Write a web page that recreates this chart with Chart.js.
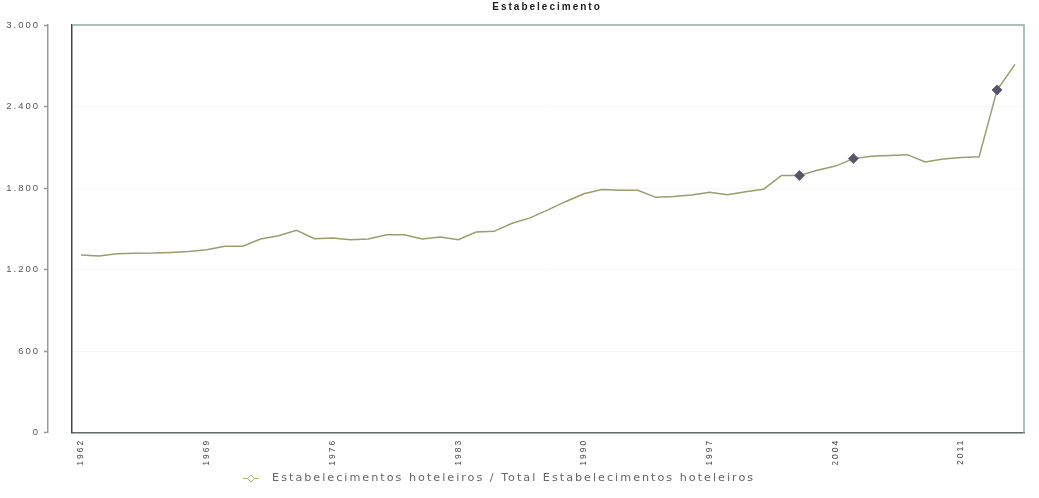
<!DOCTYPE html>
<html>
<head>
<meta charset="utf-8">
<title>Estabelecimento</title>
<script src="https://cdn.jsdelivr.net/npm/chart.js@4/dist/chart.umd.min.js"></script>
<style>
  html, body { margin: 0; padding: 0; background: #fff; }
  #wrap { width: 1039px; height: 498px; }
</style>
</head>
<body>
<div id="wrap"><canvas id="chart"></canvas></div>
<script>
// years on the x axis
const years = [
  '1962','1963','1964','1965','1966','1967','1968','1969','1970','1971',
  '1972','1973','1974','1975','1976','1977','1978','1979','1980','1981',
  '1982','1983','1984','1985','1986','1987','1988','1989','1990','1991',
  '1992','1993','1994','1995','1996','1997','1998','1999','2000','2001',
  '2002','2003','2004','2005','2006','2007','2008','2009','2010','2011',
  '2012','2013','2014'
];
// Estabelecimentos hoteleiros
const establishments = [
  1308, 1301, 1318, 1320, 1322, 1327, 1333, 1347, 1372, 1372,
  1426, 1450, 1489, 1428, 1433, 1421, 1425, 1457, 1457, 1425,
  1440, 1420, 1477, 1482, 1541, 1581, 1640, 1702, 1759, 1789,
  1784, 1784, 1732, 1739, 1749, 1769, 1752, 1774, 1792, 1893,
  1893, 1932, 1962, 2017, 2034, 2040, 2046, 1992, 2015, 2025,
  2030, 2522, 2710
];
const markerYears = ['2002', '2005', '2013'];
const xTickLabels = ['1962', '1969', '1976', '1983', '1990', '1997', '2004', '2011'];
const yMax = 3000;
const yStep = 600;

const legendText = 'Estabelecimentos hoteleiros / Total Estabelecimentos hoteleiros';
const lineColor = '#9c9c6c';
const font = 'Liberation Sans, Arial, sans-serif';

function fmt(v) {
  return String(v).replace(/\B(?=(\d{3})+(?!\d))/g, '.');
}

// little "-<>-" symbol for the legend
const legendIcon = document.createElement('canvas');
legendIcon.width = 16;
legendIcon.height = 9;
const ic = legendIcon.getContext('2d');
ic.strokeStyle = '#b4b46c';
ic.lineWidth = 1;
ic.beginPath(); ic.moveTo(0, 4.5); ic.lineTo(16, 4.5); ic.stroke();
ic.fillStyle = '#fff';
ic.beginPath();
ic.moveTo(8, 1); ic.lineTo(11.5, 4.5); ic.lineTo(8, 8); ic.lineTo(4.5, 4.5);
ic.closePath(); ic.fill(); ic.stroke();

// old chart look: wide letter spacing everywhere
const spacing = {
  id: 'spacing',
  beforeUpdate(chart) { chart.ctx.letterSpacing = '2px'; },
  beforeLayout(chart) { chart.ctx.letterSpacing = '2px'; },
  afterLayout(chart) {
    // title sits a bit right of centre, legend starts near x=235
    chart.titleBlock.left += 35;
    chart.titleBlock.right += 35;
    chart.legend.left = 227.5;
  },
  beforeDraw(chart) { chart.ctx.letterSpacing = '2px'; }
};

// top/right frame of the plot box
const frame = {
  id: 'frame',
  afterDraw(chart) {
    const { ctx, chartArea: a } = chart;
    ctx.save();
    ctx.lineWidth = 1.5;
    ctx.strokeStyle = '#8fabab';
    ctx.beginPath();
    ctx.moveTo(a.left, a.top); ctx.lineTo(a.right, a.top); ctx.lineTo(a.right, a.bottom);
    ctx.stroke();
    ctx.restore();
  }
};

const ctx = document.getElementById('chart').getContext('2d');
const chart = new Chart(ctx, {
  type: 'line',
  data: {
    labels: years,
    datasets: [{
      label: legendText,
      data: establishments,
      borderColor: lineColor,
      borderWidth: 1.5,
      fill: false,
      tension: 0,
      pointStyle: 'rectRot',
      pointRadius: c => markerYears.includes(years[c.dataIndex]) ? 5 : 0,
      pointBackgroundColor: '#56566a',
      pointBorderColor: '#6a6a7a',
      pointBorderWidth: 1
    }]
  },
  options: {
    responsive: true,
    maintainAspectRatio: false,
    animation: false,
    layout: { padding: { left: 0, right: 15, top: 0, bottom: 4 } },
    plugins: {
      title: {
        display: true,
        text: 'Estabelecimento',
        color: '#222',
        font: { family: font, size: 10, weight: 'bold' },
        padding: { top: 1, bottom: 12 }
      },
      legend: {
        position: 'bottom',
        align: 'start',
        labels: {
          usePointStyle: true,
          pointStyleWidth: 31,
          color: '#666',
          padding: 8,
          font: { family: 'DejaVu Sans, Verdana, sans-serif', size: 11.2 },
          generateLabels: () => [{
            text: legendText,
            pointStyle: legendIcon,
            fillStyle: '#fff',
            strokeStyle: '#b4b46c',
            lineWidth: 1,
            hidden: false,
            datasetIndex: 0,
            fontColor: '#666'
          }]
        }
      },
      tooltip: { enabled: false }
    },
    scales: {
      x: {
        offset: true,
        afterFit: s => { s.height = 32; },
        grid: { display: false, drawTicks: false },
        border: { display: true, color: '#5d6b6b', width: 1.5 },
        ticks: {
          autoSkip: false,
          minRotation: 90,
          maxRotation: 90,
          padding: 6,
          color: '#444',
          font: { family: font, size: 8.5 },
          callback: function (v) {
            const lab = this.getLabelForValue(v);
            return xTickLabels.includes(lab) ? lab : '';
          }
        }
      },
      // inner axis: the dark left edge of the plot box + faint grid
      y: {
        min: 0,
        max: yMax,
        weight: 0,
        afterFit: s => { s.width = 24; },
        grid: { color: 'rgba(0,0,0,0.035)', drawTicks: false },
        border: { display: true, color: '#3e4649', width: 1.5 },
        ticks: { stepSize: yStep, display: false }
      },
      // outer axis: detached grey line with the labels
      yLabels: {
        type: 'linear',
        position: 'left',
        min: 0,
        max: yMax,
        weight: 1,
        afterFit: s => { s.width = 48; },
        grid: { drawOnChartArea: false, drawTicks: true, tickLength: 4, tickColor: '#999', tickWidth: 1.5 },
        border: { display: true, color: '#999', width: 1.5 },
        ticks: {
          stepSize: yStep,
          padding: 4,
          color: '#555',
          font: { family: font, size: 9.5 },
          callback: v => fmt(v)
        }
      }
    }
  },
  plugins: [spacing, frame]
});
</script>
</body>
</html>
